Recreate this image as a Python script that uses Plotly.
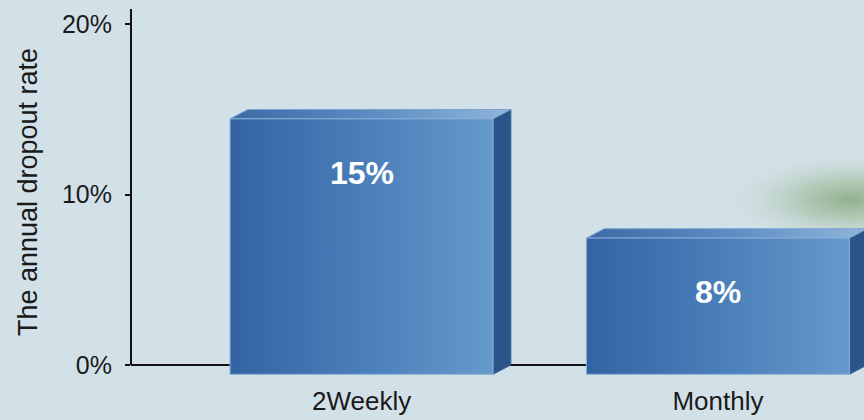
import numpy as np
import plotly.graph_objects as go

categories = ["2Weekly", "Monthly"]
rates = [15, 8]
rate_labels = ["15%", "8%"]
y_ticks = [0, 10, 20]
y_tick_text = ["0%", "10%", "20%"]

# fake 3d bar geometry (x in category units, y in percent)
HALF = 0.369
DX = 0.05
DY = 0.55

FONT = "Helvetica, Liberation Sans, Arial, sans-serif"
BG = "#d2e1e8"

fig = go.Figure()

# soft green blur in the background (right side)
t = np.linspace(0, 2 * np.pi, 80)
fig.add_trace(go.Scatter(
    x=1.37 + 0.38 * np.cos(t), y=9.7 + 3.0 * np.sin(t),
    mode="none", fill="toself",
    fillgradient=dict(type="radial",
                      colorscale=[[0, "rgba(125,160,110,0.75)"],
                                  [0.35, "rgba(150,180,140,0.55)"],
                                  [0.7, "rgba(185,205,190,0.25)"],
                                  [1, "rgba(210,224,230,0)"]]),
    hoverinfo="skip", showlegend=False))

for i, v in enumerate(rates):
    x0, x1 = i - HALF, i + HALF
    # side face
    fig.add_trace(go.Scatter(
        x=[x1, x1 + DX, x1 + DX, x1, x1],
        y=[v - DY, v, 0, -DY, v - DY],
        mode="lines", fill="toself", fillcolor="#2b5488",
        line=dict(color="#3a6699", width=1),
        hoverinfo="skip", showlegend=False))
    # top face
    fig.add_trace(go.Scatter(
        x=[x0, x0 + DX, x1 + DX, x1, x0],
        y=[v - DY, v, v, v - DY, v - DY],
        mode="lines", fill="toself",
        fillgradient=dict(type="horizontal",
                          colorscale=[[0, "#3c6aa6"], [0.5, "#5b8cc2"], [1, "#8fb5da"]]),
        line=dict(color="#7ea4cf", width=1),
        hoverinfo="skip", showlegend=False))
    # front face
    fig.add_trace(go.Scatter(
        x=[x0, x1, x1, x0, x0],
        y=[-DY, -DY, v - DY, v - DY, -DY],
        mode="lines", fill="toself",
        fillgradient=dict(type="horizontal",
                          colorscale=[[0, "#3363a4"], [0.5, "#4a7eb8"], [1, "#6699cc"]]),
        line=dict(color="#8cb0d8", width=1),
        hoverinfo="skip", showlegend=False))
    fig.add_annotation(x=i, y=v - DY, text=rate_labels[i], showarrow=False,
                       yanchor="middle", yshift=-54,
                       font=dict(family=FONT, size=32, color="white", weight="bold"))

# y axis line from 0 to top
fig.add_shape(type="line", xref="paper", yref="y", x0=0, x1=0, y0=0, y1=20.9,
              line=dict(color="#111111", width=2))

fig.update_layout(
    width=864, height=420,
    margin=dict(l=131, r=0, t=9, b=45),
    paper_bgcolor=BG, plot_bgcolor="rgba(0,0,0,0)",
    font=dict(family=FONT, size=25, color="#1a1a1a"),
    showlegend=False,
)
fig.update_xaxes(range=[-0.647, 1.41], tickvals=[0, 1], ticktext=categories,
                 tickfont=dict(size=26),
                 showgrid=False, zeroline=False, showline=False, ticks="",
                 ticklabelstandoff=8, automargin=False, fixedrange=True)
fig.update_yaxes(range=[-0.59, 20.9], tickvals=y_ticks, ticktext=y_tick_text,
                 showgrid=False, zeroline=True, zerolinecolor="#111111", zerolinewidth=2,
                 showline=False, ticks="outside", ticklen=5, tickwidth=2, tickcolor="#111111",
                 ticklabelstandoff=8, automargin=False,
                 title=dict(text="The annual dropout rate", standoff=16,
                            font=dict(size=27)),
                 fixedrange=True)

fig.write_html("out.html", config={"displayModeBar": False},
               post_script="document.body.style.margin='0';"
                           "document.body.style.background='%s';" % BG)
